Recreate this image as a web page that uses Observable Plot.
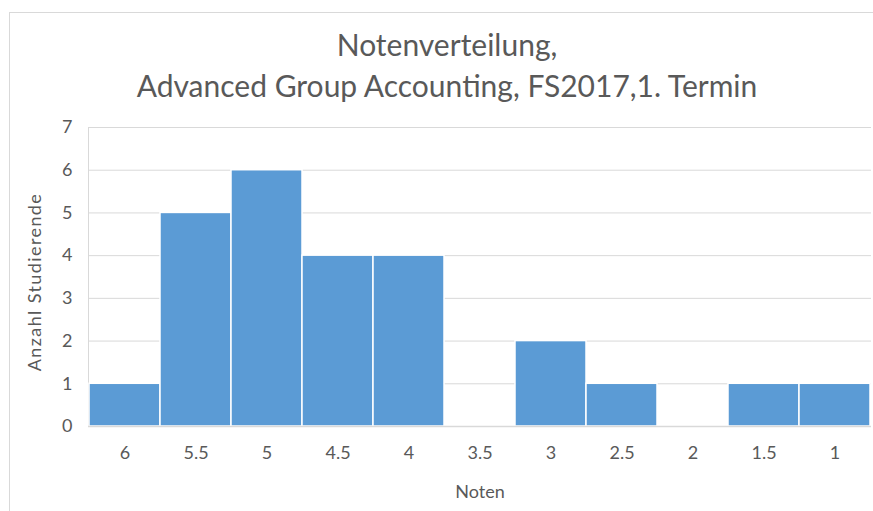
<!DOCTYPE html>
<html>
<head>
<meta charset="utf-8">
<script src="https://cdn.jsdelivr.net/npm/d3@7"></script>
<script src="https://cdn.jsdelivr.net/npm/@observablehq/plot@0.6"></script>
<style>
  html, body { margin: 0; padding: 0; background: #fff; }
  #wrap { position: relative; width: 873px; height: 511px; overflow: hidden; font-family: Lato, "Open Sans", sans-serif; }
  #border { position: absolute; left: 9px; top: 12px; width: 880px; height: 520px; border: 1px solid #d9d9d9; box-sizing: border-box; }
  #title { position: absolute; left: 9px; width: 876px; top: 24px; text-align: center; color: #595959; font-size: 30px; line-height: 41px; }
  #chart { position: absolute; left: 0; top: 0; }
</style>
</head>
<body>
<div id="wrap">
  <div id="border"></div>
  <div id="title">Notenverteilung,<br>Advanced Group Accounting, FS2017,1. Termin</div>
  <div id="chart"></div>
</div>
<script>
const grades = ["6", "5.5", "5", "4.5", "4", "3.5", "3", "2.5", "2", "1.5", "1"];
const counts = [1, 5, 6, 4, 4, 0, 2, 1, 0, 1, 1];
const yTicks = [0, 1, 2, 3, 4, 5, 6, 7];

const data = grades.map((g, i) => ({grade: g, count: counts[i]}));

const chart = Plot.plot({
  width: 873,
  height: 511,
  marginLeft: 88,
  marginRight: 2,
  marginTop: 127,
  marginBottom: 85,
  style: {background: "transparent", fontFamily: "Lato, 'Open Sans', sans-serif", fontSize: "18px", color: "#595959"},
  x: {type: "band", domain: grades, padding: 0},
  y: {domain: [0, 7]},
  marks: [
    Plot.gridY(yTicks, {stroke: "#d9d9d9", strokeOpacity: 1, strokeWidth: 1}),
    Plot.frame({anchor: "left", stroke: "#d9d9d9"}),
    Plot.barY(data, {x: "grade", y: "count", fill: "#5b9bd5", stroke: "#fff", strokeWidth: 1.5}),
    Plot.ruleY([0], {stroke: "#d9d9d9", strokeWidth: 1.5}),
    Plot.axisY(yTicks, {tickSize: 0, tickPadding: 16, fill: "#595959", fontSize: 18, label: null}),
    Plot.axisX({tickSize: 0, tickPadding: 20, fill: "#595959", fontSize: 18, label: null}),
    Plot.text(["Noten"], {frameAnchor: "bottom", dy: 71, fill: "#595959", fontSize: 18}),
    Plot.text(["Anzahl Studierende"], {frameAnchor: "left", textAnchor: "middle", dx: -53, dy: 5, rotate: -90, fill: "#595959", fontSize: 18})
  ]
});
d3.select(chart).selectAll("text").filter(function () { return this.textContent === "Anzahl Studierende"; })
  .attr("letter-spacing", "1.4px");
document.getElementById("chart").appendChild(chart);
</script>
</body>
</html>
